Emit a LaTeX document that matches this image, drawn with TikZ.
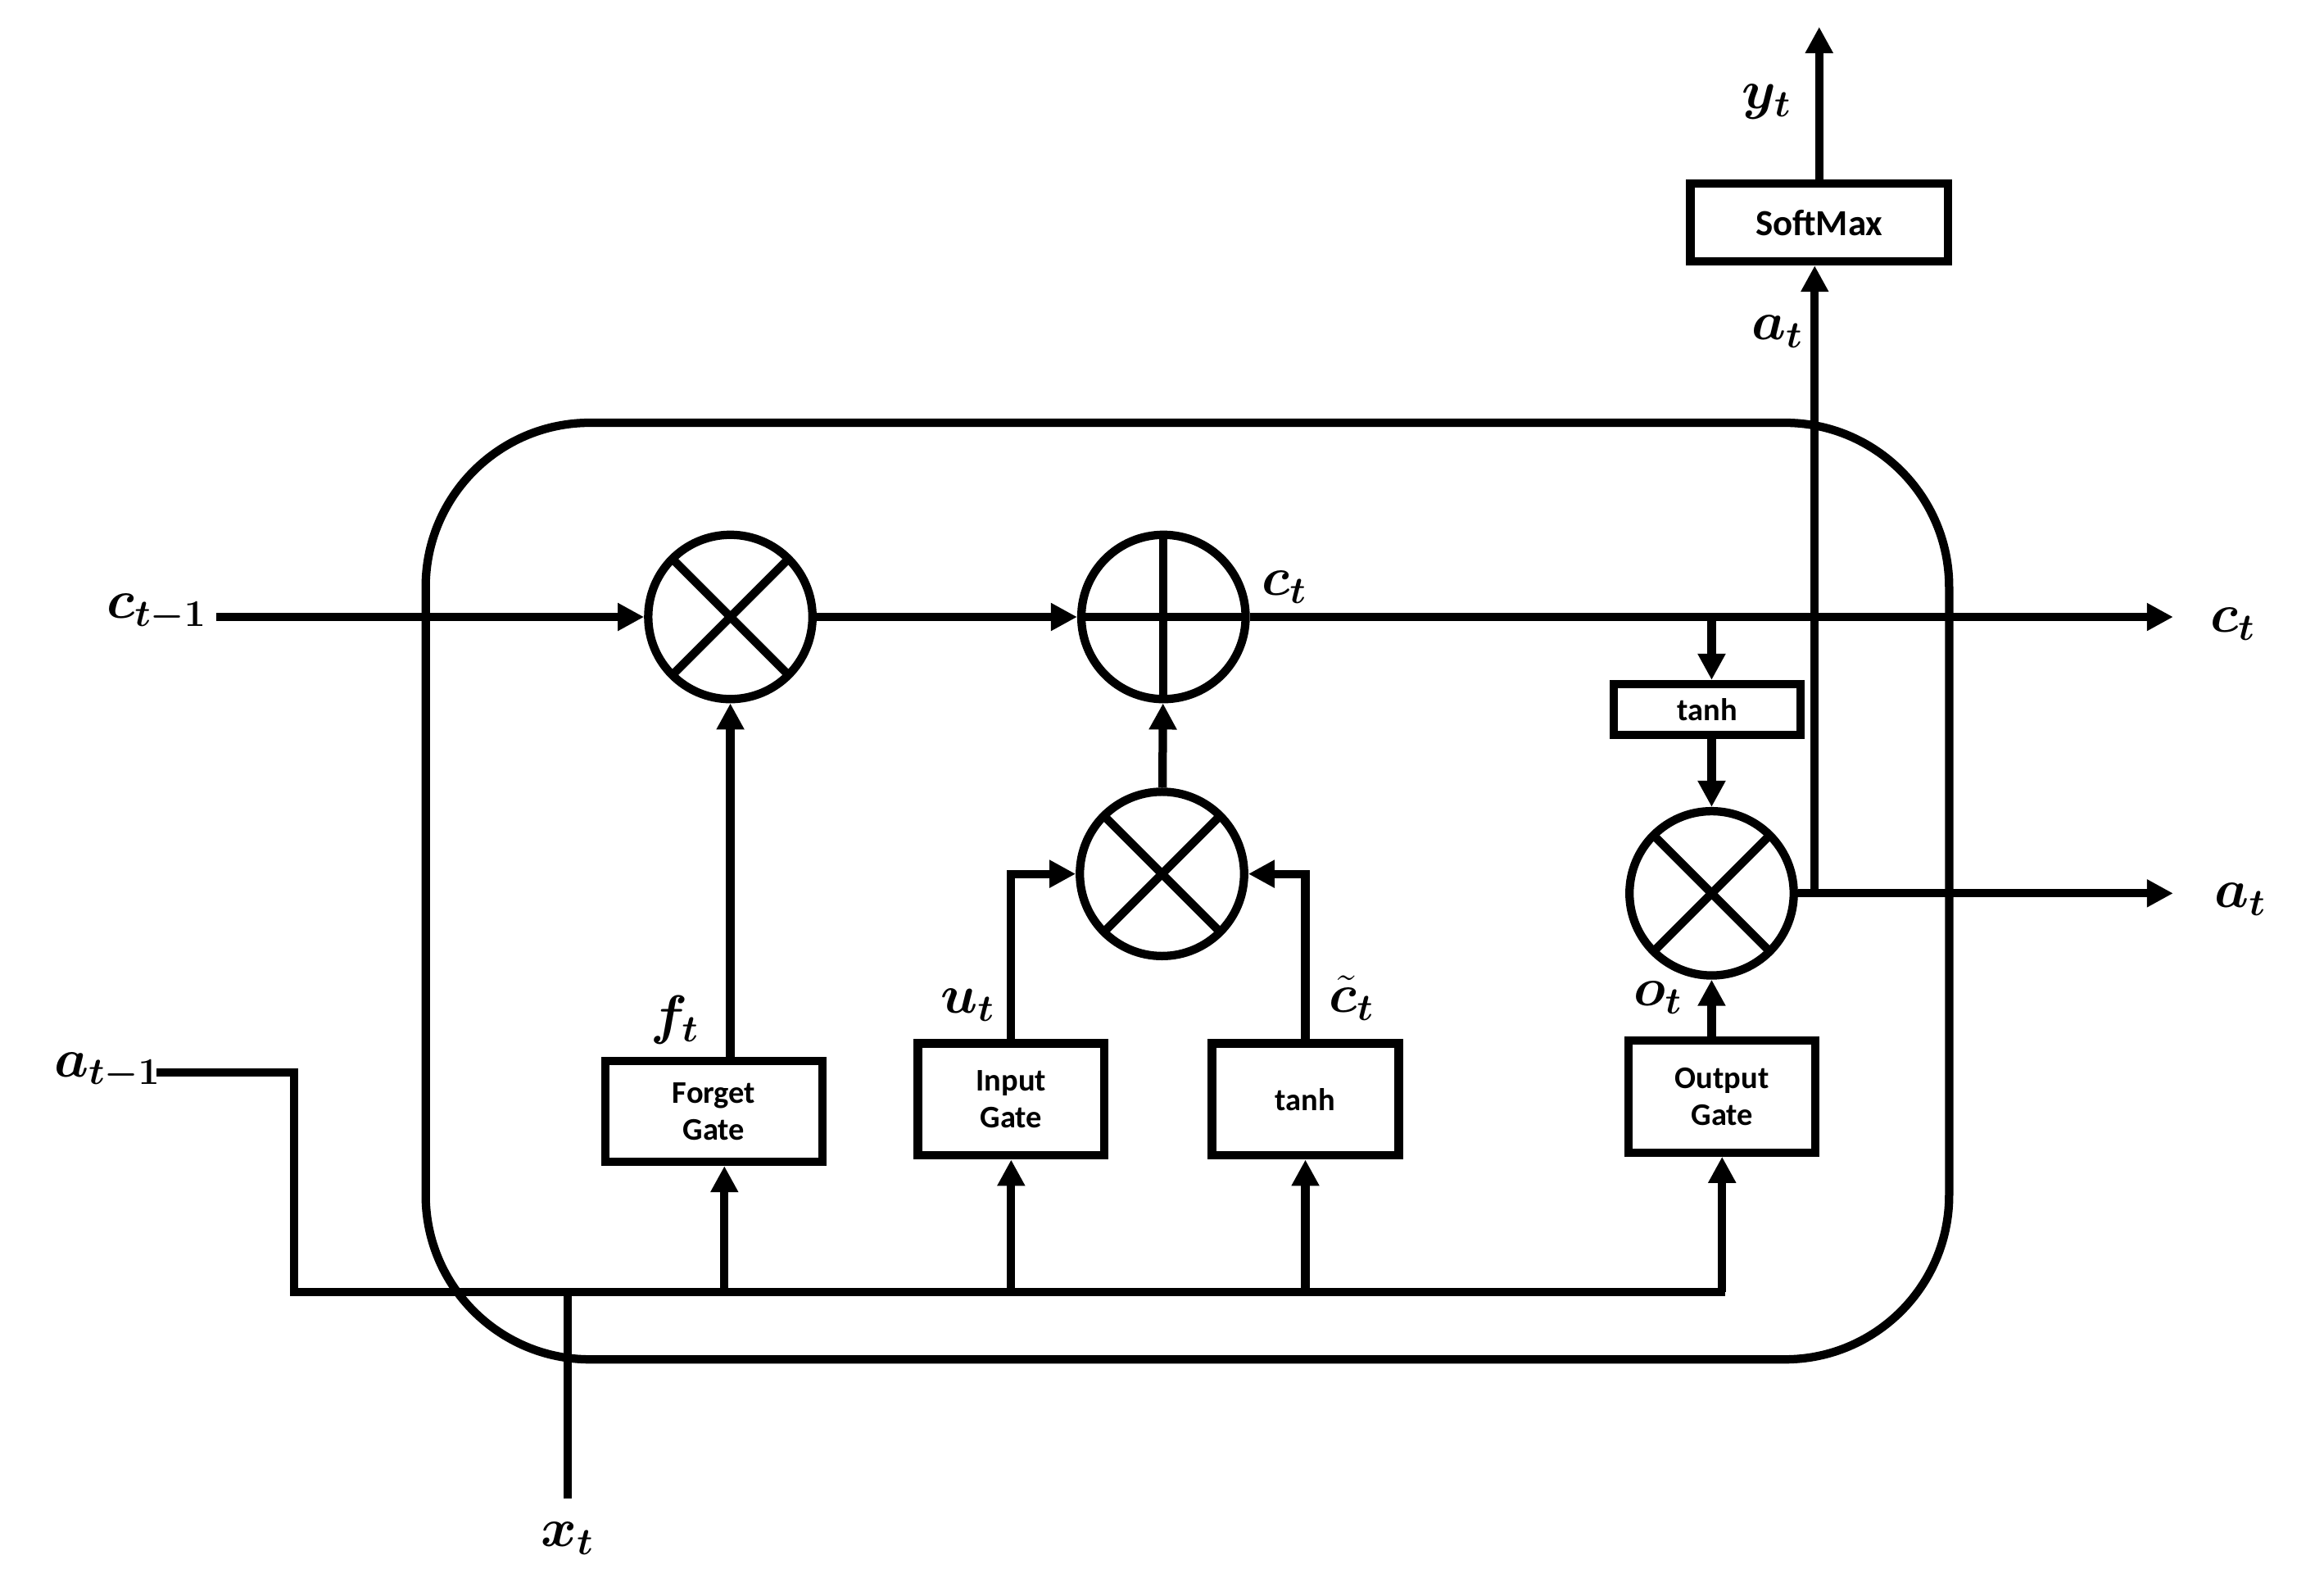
\documentclass[tikz,border=0pt]{standalone}
\usepackage{fontspec}
\usepackage{amsmath,bm}
\newfontfamily\boxfont{Carlito}
\usetikzlibrary{arrows.meta}
\tikzset{
 ln/.style={line width=3.2pt},
 ar/.style={line width=3.2pt,-{Triangle[length=10pt,width=10pt]}},
 gbox/.style={draw,line width=3.2pt,minimum width=2.5cm,minimum height=1.5cm,font=\boxfont\bfseries\fontsize{12}{14}\selectfont,align=center,inner sep=0pt},
 mul/.style={draw,circle,line width=3.2pt,minimum size=2.2cm,inner sep=0pt,path picture={\draw[line width=3.2pt] (path picture bounding box.south west)--(path picture bounding box.north east) (path picture bounding box.north west)--(path picture bounding box.south east);}},
 plus/.style={draw,circle,line width=3.2pt,minimum size=2.2cm,inner sep=0pt,path picture={\draw[line width=3.2pt] (path picture bounding box.south)--(path picture bounding box.north) (path picture bounding box.west)--(path picture bounding box.east);}},
 lab/.style={font=\fontsize{20}{22}\selectfont,inner sep=0pt}
}
\begin{document}
\begin{tikzpicture}[x=0.02cm,y=-0.02cm]
\useasboundingbox (0,0) rectangle (1556,1062);
\draw[ln,rounded corners=2.2cm] (285,283) rectangle (1305,910);
\node[mul] (m1) at (489,413) {};
\node[plus] (p1) at (779,413) {};
\node[mul] (m2) at (778,585) {};
\node[mul] (m3) at (1146,598) {};
\node[gbox,minimum width=2.9cm,minimum height=1.35cm] (fg) at (478,744) {Forget\\Gate};
\node[gbox] (ig) at (677,736) {Input\\Gate};
\node[gbox] (tg) at (874,736) {tanh};
\node[gbox] (og) at (1153,734) {Output\\Gate};
\node[gbox,minimum width=2.5cm,minimum height=0.68cm] (th) at (1143,475) {tanh};
\node[gbox,minimum width=3.45cm,minimum height=1.04cm,font=\boxfont\bfseries\fontsize{14}{16}\selectfont] (sm) at (1218,149) {SoftMax};
\node[lab] (lc0) at (105,410) {$\bm{c_{t-1}}$};
\node[lab] (lc1) at (860,393) {$\bm{c_t}$};
\node[lab] (lc2) at (1495,418) {$\bm{c_t}$};
\node[lab] (lf) at (452,683) {$\bm{f_t}$};
\node[lab] (lu) at (648,673) {$\bm{u_t}$};
\node[lab] (lct) at (905,668) {$\bm{\tilde{c}_t}$};
\node[lab] (lo) at (1110,668) {$\bm{o_t}$};
\node[lab] (la1) at (1500,602) {$\bm{a_t}$};
\node[lab] (la2) at (1190,222) {$\bm{a_t}$};
\node[lab] (ly) at (1183,68) {$\bm{y_t}$};
\node[lab] (la0) at (72,717) {$\bm{a_{t-1}}$};
\node[lab] (lx) at (380,1030) {$\bm{x_t}$};
\coordinate (cin) at (145,413);
\coordinate (cout) at (1455,413);
\coordinate (aout) at (1455,598);
\coordinate (yout) at (1218,18);
\coordinate (tap) at (1146,413);
\coordinate (br) at (1215,598);
\draw[ar] (cin) -- (m1);
\draw[ar] (m1) -- (p1);
\draw[ar] (p1) -- (cout);
\draw[ar] (m2) -- (p1);
\draw[ar] (fg.north -| m1) -- (m1);
\draw[ar] (ig.north) |- (m2);
\draw[ar] (tg.north) |- (m2);
\draw[ar] (tap) -- (th.north -| tap);
\draw[ar] (th.south -| m3) -- (m3);
\draw[ar] (og.north -| m3) -- (m3);
\draw[ar] (m3) -- (aout);
\draw[ar] (br) -- (sm.south -| br);
\draw[ar] (sm.north) -- (yout);
\coordinate (a0) at (105,718);
\draw[ln] (a0) -- (197,718) -- (197,865) -- (1155,865);
\draw[ar] (485,865) -- (fg.south -| 485,0);
\draw[ar] (ig.south |- 0,865) -- (ig.south);
\draw[ar] (tg.south |- 0,865) -- (tg.south);
\draw[ar] (og.south |- 0,865) -- (og.south);
\draw[ln] (380,1003) -- (380,865);
\end{tikzpicture}
\end{document}
